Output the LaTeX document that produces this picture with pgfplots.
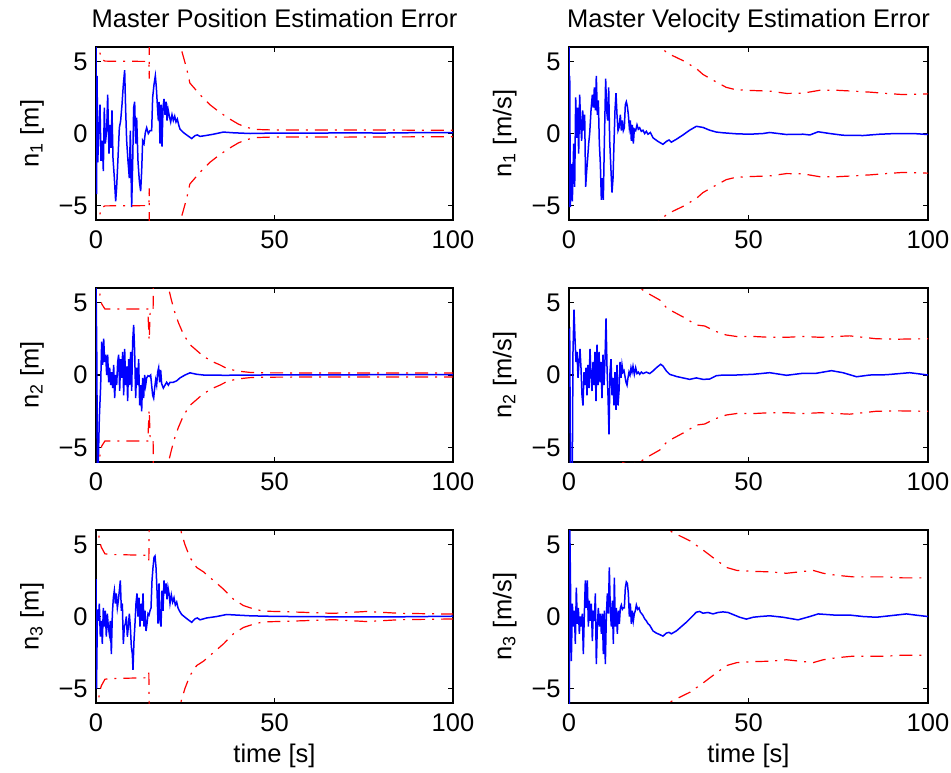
\documentclass[border=0pt]{standalone}
\usepackage{fontspec}
\setmainfont{Liberation Sans}
\usepackage{pgfplots}
\pgfplotsset{compat=1.18}

\newcommand{\fs}{\fontsize{12.75}{15}\selectfont}

\pgfplotsset{
  panel/.style={
    scale only axis, width=178.5pt, height=86.5pt,
    xmin=0, xmax=100, ymin=-6, ymax=6,
    xtick={0,50,100}, xticklabels={0,50,100},
    ytick={-5,0,5}, yticklabels={−5,0,5},
    tick align=inside, major tick length=2.5pt,
    axis line style={line width=0.8pt},
    every tick/.style={black, line width=0.6pt},
    tick label style={font=\fs},
    xticklabel style={anchor=north, inner sep=0pt, yshift=-5pt},
    yticklabel style={anchor=east, inner sep=0pt, xshift=-4pt},
    ylabel style={at={(axis description cs:-0.145,0.5)}, anchor=south, inner sep=0pt, font=\fs},
    title style={at={(axis description cs:0.5,1)}, anchor=base, yshift=4pt, inner sep=0pt, font=\fs},
    xlabel style={at={(axis description cs:0.5,0)}, anchor=base, yshift=-29.5pt, inner sep=0pt, font=\fs},
  },
  sig/.style={blue, line width=0.75pt},
  bnd/.style={red, line width=0.6pt, dash pattern=on 6.5pt off 3.5pt on 1pt off 3.5pt},
}

\begin{document}
\begin{tikzpicture}
\path[use as bounding box] (0,0) rectangle (475.5pt,-386pt);

% ---------- row 1, position ----------
\begin{axis}[panel, at={(48pt,-23.5pt)}, anchor=north west,
  title={Master Position Estimation Error}, ylabel={n\textsubscript{1} [m]}]
\addplot[sig] coordinates {
(0,6.5)(0.15,-4.2)(0.3,4)(0.5,-2)(0.65,-0.7)(1.12,2.0)(1.40,-1.9)(1.77,-0.5)(2.05,-2.6)(2.33,1.8)(2.61,-0.7)(2.99,0.2)(3.27,2.7)(3.64,-1.4)(3.92,0.6)(4.20,-1.0)(4.48,1.6)(4.76,-1.7)(5.14,-3.1)(5.51,-4.7)(5.79,-3.7)(6.16,-1.7)(6.54,0.4)(6.91,0.9)(7.28,2.0)(7.66,3.4)(8.03,4.4)(8.31,1.6)(8.59,-0.5)(8.96,-1.9)(9.34,-3.1)(9.62,0.2)(9.99,-5.1)(10.27,-2.1)(10.55,1.8)(10.83,2.2)(11.11,-0.7)(11.39,1.1)(11.76,-1.9)(12.14,-3.3)(12.51,-4.0)(12.79,-2.6)(13.07,-0.5)(13.45,-0.7)(13.82,0.07)(14.19,0.4)(14.66,0)(15.13,0.2)(15.59,0.2)(15.87,2.5)(16.25,3.4)(16.62,4.0)(16.90,3.2)(17.18,2.0)(17.46,0.9)(17.65,2.2)(17.93,-0.7)(18.21,2.0)(18.49,-0.9)(18.77,1.8)(19.05,2.4)(19.33,1.3)(19.61,2.2)(19.89,0.9)(20.17,1.7)(20.54,1.2)(20.92,0.8)(21.29,1.3)(21.66,0.9)(22.04,1.2)(22.41,0.8)(22.78,1.0)(23.16,0.6)(23.53,0.3)(24.46,0.07)(25.40,-0.1)(26.80,-0.35)(27.73,-0.15)(28.38,-0.1)(29.13,-0.2)(30.53,-0.15)(32.87,-0.05)(35.67,0.1)(38.47,0.05)(43.14,0)(50,0.03)(60,0.02)(70,0.05)(80,0.03)(90,0.06)(100,0.06)
};
\addplot[bnd] coordinates {
(0.9,7)(1.1,5.6)(1.5,5.15)(2.5,5.02)(14.8,5.0)(14.9,3.8)(15.0,9)(22.8,8)(23.7,6.0)(24.5,5.3)(25.4,4.5)(26.3,3.5)(29.1,2.7)(31.9,2.0)(34.7,1.46)(37.5,1.0)(39.9,0.65)(42.2,0.42)(45,0.28)(50,0.24)(60,0.24)(70,0.25)(80,0.24)(90,0.23)(100,0.22)
};
\addplot[bnd] coordinates {
(0.9,-7)(1.1,-5.6)(1.5,-5.15)(2.5,-5.02)(14.8,-5.0)(14.9,-3.8)(15.0,-9)(22.8,-8)(23.7,-6.0)(24.5,-5.3)(25.4,-4.5)(26.3,-3.5)(29.1,-2.7)(31.9,-2.0)(34.7,-1.46)(37.5,-1.0)(39.9,-0.65)(42.2,-0.42)(45,-0.28)(50,-0.24)(60,-0.24)(70,-0.25)(80,-0.24)(90,-0.23)(100,-0.22)
};
\end{axis}

% ---------- row 1, velocity ----------
\begin{axis}[panel, at={(284.5pt,-23.5pt)}, anchor=north west, width=179.5pt,
  title={Master Velocity Estimation Error}, ylabel={n\textsubscript{1} [m/s]}]
\addplot[sig] coordinates {
(0,6.5)(0.1,-5.1)(0.2,4)(0.37,-5.1)(0.65,-2.1)(0.93,-4.7)(1.30,-0.7)(1.58,-3.7)(1.86,2.5)(2.14,-0.3)(2.41,1.8)(2.69,-1.4)(2.97,2.7)(3.25,0.6)(3.53,-0.5)(3.81,1.6)(4.09,0.2)(4.36,1.3)(4.64,-3.7)(4.92,-2.6)(5.20,-1.7)(5.48,-0.7)(5.76,0)(6.13,1.6)(6.50,2.7)(6.78,1.8)(7.06,3.2)(7.34,1.6)(7.61,4.0)(7.89,1.3)(8.17,2.3)(8.45,-0.7)(8.73,-2.1)(9.01,-4.6)(9.29,-3.1)(9.56,-4.6)(9.84,-0.7)(10.21,3.8)(10.49,1.6)(10.77,0.9)(11.05,3.2)(11.33,-0.5)(11.70,-2.6)(11.98,-4.1)(12.26,-3.1)(12.53,-0.7)(12.81,1.6)(13.09,2.8)(13.37,1.3)(13.65,0.2)(13.93,0.4)(14.30,1.3)(14.58,0.2)(14.86,0.9)(15.13,0.2)(15.41,0.4)(15.69,2.0)(15.97,2.2)(16.25,1.9)(16.53,1.3)(16.81,0.4)(17.08,0.9)(17.36,-0.5)(17.64,0.6)(17.92,-0.7)(18.20,0.3)(18.57,0.2)(18.94,0.6)(19.31,0.3)(19.68,0.4)(20.15,0.15)(20.61,0.23)(21.08,0)(21.54,0.15)(22.01,-0.05)(22.66,0.07)(23.40,-0.3)(24.79,-0.55)(26.18,-0.75)(27.11,-0.55)(27.86,-0.45)(28.51,-0.6)(29.90,-0.4)(31.75,-0.1)(33.61,0.23)(35.47,0.5)(37.33,0.42)(39.18,0.23)(41.04,0.1)(42.90,0.05)(46.61,-0.02)(50.32,-0.05)(54.04,0)(55.9,0.07)(60.6,-0.07)(65.2,-0.05)(67.1,-0.1)(69.4,0.12)(72.6,0)(76.3,-0.12)(81.9,-0.14)(86.5,-0.05)(91.2,0)(95.8,0)(100,-0.07)
};
\addplot[bnd] coordinates {
(23,6.8)(25.3,6.0)(27.6,5.55)(31.8,5.05)(35.5,4.5)(37.3,4.1)(39.6,3.77)(43.8,3.2)(46.6,3.03)(51.3,2.98)(55.9,2.94)(60.6,2.78)(65.2,2.8)(69.9,3.0)(74.5,3.0)(79.1,2.94)(83.8,2.87)(88.4,2.78)(93,2.7)(100,2.75)
};
\addplot[bnd] coordinates {
(23,-6.8)(25.3,-6.0)(27.6,-5.55)(31.8,-5.05)(35.5,-4.5)(37.3,-4.1)(39.6,-3.77)(43.8,-3.2)(46.6,-3.03)(51.3,-2.98)(55.9,-2.94)(60.6,-2.78)(65.2,-2.8)(69.9,-3.0)(74.5,-3.0)(79.1,-2.94)(83.8,-2.87)(88.4,-2.78)(93,-2.7)(100,-2.75)
};
\end{axis}

% ---------- row 2, position ----------
\begin{axis}[panel, at={(48pt,-144pt)}, anchor=north west, height=87pt,
  ylabel={n\textsubscript{2} [m]}]
\addplot[sig] coordinates {
(0,6.5)(0.2,2)(0.4,-6.5)(0.6,-6.5)(0.93,-3.0)(1.31,-0.7)(1.59,2.3)(1.87,0.7)(2.15,2.5)(2.43,0.9)(2.71,1.4)(2.99,0)(3.27,1.4)(3.55,-0.5)(3.83,0.5)(4.11,-0.7)(4.39,0.2)(4.67,-0.9)(4.95,0.7)(5.23,-1.6)(5.51,0)(5.79,-0.7)(6.07,0.9)(6.35,1.4)(6.63,-1.1)(6.91,1.1)(7.19,-0.2)(7.47,1.6)(7.75,-1.4)(8.03,1.8)(8.31,-0.7)(8.59,0.6)(8.87,-1.8)(9.15,1.1)(9.43,-0.7)(9.71,1.6)(9.99,-1.1)(10.27,2.3)(10.55,3.45)(10.83,1.6)(11.11,-1.6)(11.39,0.5)(11.67,-0.7)(11.95,1.1)(12.23,-2.1)(12.51,-0.7)(12.79,-2.5)(13.07,-0.2)(13.35,-1.6)(13.63,0)(13.91,-0.7)(14.19,-0.2)(14.57,-0.05)(14.94,-0.1)(15.31,0)(15.59,-0.7)(15.87,-1.4)(16.15,-1.6)(16.43,-0.9)(16.71,-0.35)(16.99,-0.7)(17.27,0.2)(17.55,0.5)(17.83,-0.5)(18.11,0.35)(18.39,-0.6)(18.86,-0.9)(19.33,-0.7)(19.79,-0.5)(20.26,-0.7)(20.73,-0.5)(21.66,-0.5)(22.60,-0.4)(23.53,-0.2)(24.93,0)(26.33,0.15)(27.26,0.1)(28.20,0.05)(30.07,0)(32.87,0)(35.67,-0.02)(45,0)(60,0.01)(80,0.02)(100,0.03)
};
\addplot[bnd] coordinates {
(0.9,7)(1.1,5.5)(1.6,4.9)(2.5,4.55)(14.5,4.55)(14.9,2.4)(15.2,4.55)(16.0,4.55)(16.15,9)(19.5,8)(20.3,6.0)(21.2,5.1)(22.1,4.3)(23.1,3.6)(24.5,2.8)(26.3,2.1)(29.1,1.5)(31.9,1.0)(34.7,0.7)(36.6,0.46)(39.4,0.28)(43.1,0.18)(46.9,0.15)(60,0.14)(80,0.14)(100,0.14)
};
\addplot[bnd] coordinates {
(0.9,-7)(1.1,-5.5)(1.6,-4.9)(2.5,-4.55)(14.5,-4.55)(14.9,-2.4)(15.2,-4.55)(16.0,-4.55)(16.15,-9)(19.5,-8)(20.3,-6.0)(21.2,-5.1)(22.1,-4.3)(23.1,-3.6)(24.5,-2.8)(26.3,-2.1)(29.1,-1.5)(31.9,-1.0)(34.7,-0.7)(36.6,-0.46)(39.4,-0.28)(43.1,-0.18)(46.9,-0.15)(60,-0.14)(80,-0.14)(100,-0.14)
};
\end{axis}

% ---------- row 2, velocity ----------
\begin{axis}[panel, at={(284.5pt,-144pt)}, anchor=north west, width=179.5pt, height=87pt,
  ylabel={n\textsubscript{2} [m/s]}]
\addplot[sig] coordinates {
(0,3.0)(0.19,3.1)(0.4,-6.5)(0.93,-6.5)(1.11,1.6)(1.39,4.5)(1.67,2.5)(1.95,0.9)(2.23,1.6)(2.51,-0.2)(2.79,0.9)(3.06,1.8)(3.34,0.5)(3.62,-1.4)(3.90,-2.1)(4.18,0.2)(4.46,-0.7)(4.74,0.5)(5.01,-1.4)(5.29,0.7)(5.57,-0.9)(5.85,1.8)(6.13,0)(6.41,-1.1)(6.69,0.9)(6.96,-0.7)(7.24,1.6)(7.52,-1.8)(7.80,2.1)(8.08,-0.7)(8.36,1.6)(8.64,-0.5)(8.91,0.9)(9.19,-1.6)(9.47,1.4)(9.75,-0.7)(10.03,1.1)(10.31,3.9)(10.59,0.5)(10.86,-1.4)(11.14,-4.1)(11.42,0.2)(11.70,1.1)(11.98,-1.4)(12.26,-0.2)(12.53,-2.1)(12.81,0.2)(13.09,-2.4)(13.37,0.7)(13.65,-2.1)(13.93,-1.1)(14.21,0.9)(14.48,-0.2)(14.76,0.7)(15.04,0.2)(15.32,0.3)(15.60,-0.1)(15.88,-0.5)(16.16,-0.7)(16.43,-0.2)(16.71,0.2)(16.99,0)(17.27,0.5)(17.55,0.2)(17.83,0.6)(18.20,0.05)(18.57,0.5)(18.94,0.1)(19.31,0.2)(19.68,0.05)(20.15,0.2)(20.61,0.1)(21.54,0.2)(22.47,0.1)(23.40,0.28)(24.33,0.5)(25.53,0.74)(26.18,0.62)(27.11,0.28)(28.04,0.05)(29.90,-0.1)(31.75,-0.2)(33.61,-0.3)(35.47,-0.2)(37.33,-0.3)(39.18,-0.28)(41.04,-0.05)(42.90,0)(46.7,0)(51.3,0.05)(55.9,0.16)(60.6,-0.02)(65.2,0.12)(68.9,0.12)(73.1,0.3)(76.3,0.16)(80.1,-0.12)(83.8,0)(88.4,0.02)(94.9,0.16)(100,0)
};
\addplot[bnd] coordinates {
(13,8)(15,6.05)(17,6.2)(19.7,6.0)(22,5.63)(25.3,5.17)(27.3,4.6)(29,4.37)(31.8,4.0)(35.5,3.45)(37.8,3.38)(40.6,3.03)(43.8,2.76)(46.6,2.66)(51.3,2.66)(55.9,2.6)(60.6,2.6)(65.2,2.66)(70,2.6)(74.5,2.66)(78.2,2.7)(81.9,2.6)(85.6,2.5)(91.2,2.47)(100,2.5)
};
\addplot[bnd] coordinates {
(13,-8)(15,-6.05)(17,-6.2)(19.7,-6.0)(22,-5.63)(25.3,-5.17)(27.3,-4.6)(29,-4.37)(31.8,-4.0)(35.5,-3.45)(37.8,-3.38)(40.6,-3.03)(43.8,-2.76)(46.6,-2.66)(51.3,-2.66)(55.9,-2.6)(60.6,-2.6)(65.2,-2.66)(70,-2.6)(74.5,-2.66)(78.2,-2.7)(81.9,-2.6)(85.6,-2.5)(91.2,-2.47)(100,-2.5)
};
\end{axis}

% ---------- row 3, position ----------
\begin{axis}[panel, at={(48pt,-265pt)}, anchor=north west,
  ylabel={n\textsubscript{3} [m]}, xlabel={time [s]}]
\addplot[sig] coordinates {
(0,2.6)(0.15,-5.0)(0.4,0.5)(0.65,-0.3)(0.93,0.9)(1.21,-1.4)(1.49,-0.3)(1.77,-1.9)(2.05,0.6)(2.33,-0.7)(2.61,0.4)(2.89,-1.4)(3.17,0.2)(3.45,-0.7)(3.73,-1.2)(4.01,-0.3)(4.30,-2.6)(4.58,0.2)(4.86,1.3)(5.14,1.8)(5.42,0.9)(5.70,1.6)(5.98,0.6)(6.26,1.1)(6.54,1.8)(6.82,2.5)(7.10,0.4)(7.38,0.9)(7.66,-1.9)(7.94,-0.7)(8.22,-0.5)(8.50,0)(8.78,-1.4)(9.06,-0.7)(9.34,0.2)(9.62,-0.7)(9.90,-2.1)(10.18,-2.6)(10.36,-3.7)(10.64,-1.7)(10.92,-0.5)(11.20,0.9)(11.48,1.6)(11.76,0)(12.04,1.3)(12.32,-0.7)(12.61,0.9)(12.89,-0.3)(13.17,1.6)(13.45,-0.7)(13.73,0.4)(14.01,-1.0)(14.29,-0.5)(14.57,0.2)(14.85,0.1)(15.13,0.4)(15.41,0.6)(15.69,2.5)(15.97,3.4)(16.25,4.1)(16.53,4.2)(16.81,3.4)(17.09,1.8)(17.37,-0.5)(17.65,2.3)(17.93,-0.3)(18.21,-0.7)(18.49,1.8)(18.77,0.4)(19.05,2.5)(19.33,1.6)(19.61,2.3)(19.89,1.2)(20.17,2.0)(20.45,1.6)(20.73,0.9)(21.10,1.5)(21.48,1.0)(21.85,1.3)(22.22,0.8)(22.60,1.0)(22.97,0.6)(23.34,0.4)(24.00,0.14)(24.93,-0.05)(25.86,-0.23)(26.80,-0.4)(27.73,-0.16)(28.38,-0.1)(29.13,-0.23)(31.00,-0.1)(33.80,0)(36.60,0.14)(39.40,0.1)(43.14,0.05)(47.8,0.02)(54.3,0)(66.5,-0.02)(85.2,-0.02)(100,0.02)
};
\addplot[bnd] coordinates {
(0.6,7)(0.9,5.3)(1.5,4.8)(2.5,4.35)(4,4.3)(14.6,4.25)(14.8,3.9)(15.0,9)(22.8,8)(23.7,6.0)(24.9,5.0)(26.3,4.1)(28.2,3.4)(30.1,3.1)(32.9,2.5)(35.7,1.9)(38.5,1.2)(41.3,0.76)(44.1,0.53)(46.9,0.37)(50.6,0.35)(57.1,0.3)(66.5,0.22)(75.8,0.35)(85.2,0.22)(100,0.17)
};
\addplot[bnd] coordinates {
(0.6,-7)(0.9,-5.3)(1.5,-4.8)(2.5,-4.35)(4,-4.3)(14.6,-4.25)(14.8,-3.9)(15.0,-9)(22.8,-8)(23.7,-6.0)(24.9,-5.0)(26.3,-4.1)(28.2,-3.4)(30.1,-3.1)(32.9,-2.5)(35.7,-1.9)(38.5,-1.2)(41.3,-0.76)(44.1,-0.53)(46.9,-0.37)(50.6,-0.35)(57.1,-0.3)(66.5,-0.22)(75.8,-0.35)(85.2,-0.22)(100,-0.17)
};
\end{axis}

% ---------- row 3, velocity ----------
\begin{axis}[panel, at={(284.5pt,-265pt)}, anchor=north west, width=179.5pt,
  ylabel={n\textsubscript{3} [m/s]}, xlabel={time [s]}]
\addplot[sig] coordinates {
(0,6.5)(0.1,-6.5)(0.2,6.5)(0.37,3.3)(0.65,-3.1)(0.93,0.9)(1.21,-0.7)(1.49,0.4)(1.76,-1.9)(2.04,2.0)(2.32,-0.5)(2.60,0.6)(2.88,-1.2)(3.16,0)(3.44,-0.7)(3.71,0.2)(3.99,-2.6)(4.27,0.2)(4.55,2.5)(4.83,0.6)(5.11,2.5)(5.39,-0.7)(5.66,1.1)(5.94,-0.3)(6.22,0.9)(6.50,-1.7)(6.78,0.4)(7.06,-0.3)(7.34,1.6)(7.61,-3.3)(7.89,-0.7)(8.17,0.6)(8.45,-0.7)(8.73,0.2)(9.01,-1.2)(9.29,0.2)(9.56,-2.6)(9.84,0.4)(10.12,-3.3)(10.40,0)(10.68,1.6)(10.96,0.2)(11.23,3.4)(11.51,0.4)(11.79,-0.7)(12.07,1.1)(12.35,-1.9)(12.63,2.7)(12.91,-0.7)(13.18,0.6)(13.46,-1.2)(13.74,0.4)(14.02,-0.5)(14.30,0.6)(14.58,0.8)(14.86,0.5)(15.13,0.6)(15.41,0.6)(15.69,2.0)(15.97,2.4)(16.25,2.3)(16.53,1.6)(16.81,0)(17.08,0.9)(17.36,-0.5)(17.64,0.4)(17.92,-0.3)(18.20,0.2)(18.48,0.4)(18.76,0.8)(19.13,0.5)(19.50,0.6)(19.87,0.3)(20.24,0.2)(20.61,0.07)(21.08,-0.16)(21.54,-0.3)(22.01,-0.5)(22.47,-0.6)(23.40,-1.0)(24.33,-1.15)(25.26,-1.25)(26.18,-1.36)(27.11,-1.15)(27.86,-1.1)(28.51,-1.2)(29.90,-1.0)(31.29,-0.7)(32.68,-0.4)(34.08,-0.05)(35.47,0.3)(36.40,0.35)(37.33,0.23)(38.72,0.28)(40.11,0.18)(41.50,0.28)(42.90,0.32)(44.29,0.28)(45.68,0.14)(47.54,-0.05)(49.4,-0.18)(51.3,-0.05)(53.2,0)(55.9,0.05)(59.6,-0.05)(63.8,-0.23)(67.1,0)(69.4,0.18)(74.5,0.09)(78.2,0.1)(81.9,0)(85.6,-0.05)(89.3,0.05)(94.0,0.18)(96.8,0.09)(100,0)
};
\addplot[bnd] coordinates {
(25,7)(27.6,6.0)(30,5.7)(33.7,5.25)(37.4,4.6)(41.1,3.9)(43.9,3.4)(46.7,3.2)(51.3,3.13)(55.9,3.1)(60.6,3.0)(64.3,3.1)(68,3.2)(70.8,3.0)(74.5,2.86)(79.1,2.75)(83.8,2.75)(88.4,2.75)(93,2.68)(100,2.68)
};
\addplot[bnd] coordinates {
(25,-7)(27.6,-6.0)(30,-5.7)(33.7,-5.25)(37.4,-4.6)(41.1,-3.9)(43.9,-3.4)(46.7,-3.2)(51.3,-3.13)(55.9,-3.1)(60.6,-3.0)(64.3,-3.1)(68,-3.2)(70.8,-3.0)(74.5,-2.86)(79.1,-2.75)(83.8,-2.75)(88.4,-2.75)(93,-2.68)(100,-2.68)
};
\end{axis}
\end{tikzpicture}
\end{document}
